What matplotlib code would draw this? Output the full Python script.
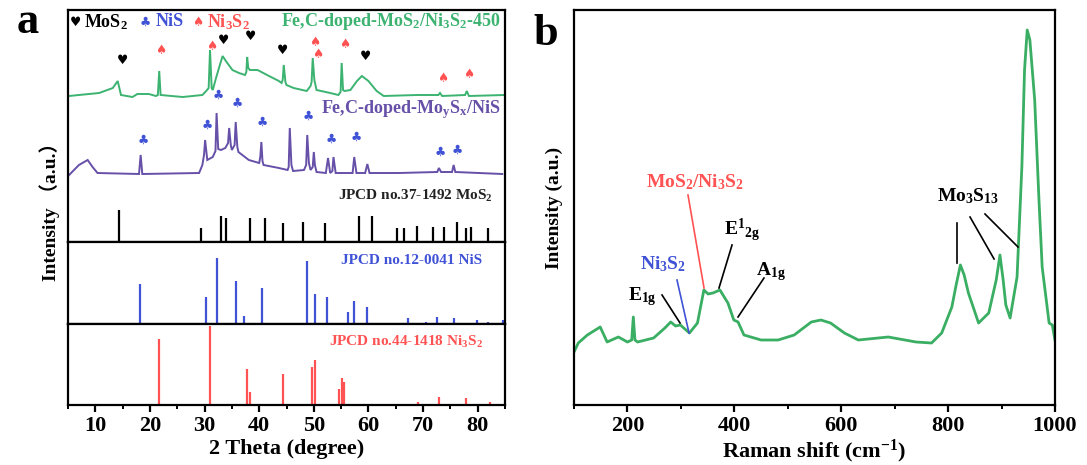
import matplotlib
matplotlib.use("Agg")
import matplotlib.pyplot as plt
from matplotlib.ticker import MultipleLocator, NullLocator

plt.rcParams['font.family'] = ['Liberation Serif', 'DejaVu Sans']
plt.rcParams['font.weight'] = 'bold'
plt.rcParams['mathtext.fontset'] = 'custom'
plt.rcParams['mathtext.rm'] = 'Liberation Serif:bold'
plt.rcParams['mathtext.it'] = 'Liberation Serif:bold'
plt.rcParams['mathtext.bf'] = 'Liberation Serif:bold'
plt.rcParams['mathtext.default'] = 'rm'

# ---------------- data: XRD (panel a) ----------------
green_2theta = [5.2, 7.0, 10.7, 13.2, 14.1, 14.7, 16.8, 17.7, 19.8, 21.1, 21.45, 21.7, 21.95, 26.0,
                29.6, 30.3, 30.75, 31.0, 31.3, 31.5, 32.1, 32.8, 33.3, 33.9, 35.1, 36.3, 37.4,
                37.65, 37.8, 38.0, 38.3, 39.7, 41.8, 43.6, 44.1, 44.3, 44.5, 44.8, 45.0, 46.3,
                48.7, 49.4, 49.6, 49.8, 50.1, 50.5, 53.0, 54.5, 54.9, 55.1, 55.35, 55.6, 56.7,
                57.9, 58.8, 60.0, 61.5, 62.8, 68.9, 72.8, 73.1, 73.5, 77.7, 78.0, 78.4, 84.9]
green_int = [0, 1, 3, 8, 15, 1, -1, 2, 2, 0, 1, 25, 1, -1,
             1, 5, 8, 46, 8, 6, 18, 31, 40, 35, 26, 23, 21,
             24, 39, 28, 26, 26, 20, 15, 13, 16, 31, 14, 11, 8,
             5, 10, 14, 38, 16, 6, 3, 1, 4, 33, 6, 5, 6,
             15, 20, 15, 5, 0, 1, 1, 3, 0, 1, 5, 0, 1]

purple_2theta = [5.2, 7.0, 8.6, 9.5, 10.4, 18.0, 18.3, 18.6, 29.0, 29.6, 29.9, 30.1, 30.5, 31.5,
                 32.0, 32.2, 32.5, 33.0, 33.8, 34.3, 34.5, 34.8, 35.0, 35.5, 35.7, 36.0, 36.2,
                 38.1, 40.0, 40.2, 40.4, 40.6, 40.8, 43.6, 45.2, 45.4, 45.6, 45.9, 46.2, 48.2,
                 48.6, 48.8, 49.1, 49.4, 49.8, 50.0, 50.2, 50.5, 52.2, 52.6, 53.0, 53.4, 53.6,
                 54.0, 57.1, 57.4, 57.8, 59.4, 59.8, 60.2, 65.6, 72.6, 72.9, 73.3, 75.3, 75.6,
                 75.9, 84.5]
purple_int = [0, 10, 15, 8, 2, 1, 20, 1, 2, 10, 20, 35, 15, 18,
              24, 62, 26, 25, 27, 32, 47, 30, 25, 30, 53, 28, 23,
              15, 12, 18, 33, 14, 10, 7, 5, 8, 47, 10, 4, 5,
              10, 40, 12, 5, 8, 23, 10, 3, 2, 17, 2, 4, 18,
              2, 2, 18, 2, 2, 11, 2, 2, 3, 7, 3, 3, 10,
              3, 1]

mos2_ref_2theta = [14.3, 29.3, 33.0, 33.9, 38.3, 41.0, 44.3, 48.0, 52.0, 58.2, 60.6, 65.3, 66.6,
                   68.8, 71.9, 73.9, 76.3, 77.9, 78.8, 81.8]
mos2_ref_int = [32, 14, 26, 24, 24, 24, 19, 20, 19, 26, 26, 14, 14, 16, 15, 15, 20, 14, 15, 14]

nis_ref_2theta = [18.2, 30.2, 32.2, 35.7, 37.2, 40.5, 48.7, 50.2, 52.5, 56.2, 57.3, 59.7, 67.3,
                  70.6, 72.6, 75.7, 79.8, 81.8, 84.7]
nis_ref_int = [40, 27, 66, 43, 8, 36, 63, 30, 27, 12, 23, 17, 6, 2, 7, 6, 4, 2, 4]

ni3s2_ref_2theta = [21.6, 31.0, 37.7, 38.3, 44.3, 49.6, 50.2, 54.6, 55.1, 55.5, 69.0, 73.0, 77.9, 82.2]
ni3s2_ref_int = [66, 79, 36, 13, 31, 38, 45, 16, 27, 23, 3, 8, 7, 3]

heart_2theta = [14.9, 33.5, 38.5, 44.2, 59.4]
heart_y = [182, 201, 205, 192, 186]
spade_2theta = [22.0, 31.3, 50.1, 50.7, 55.6, 73.6, 78.3]
spade_y = [191, 195, 199, 188, 197, 163, 167]
club_2theta = [32.5, 36.0, 30.5, 40.6, 48.9, 18.7, 53.1, 57.8, 73.2, 76.2]
club_y = [147, 139, 117, 120, 126, 102, 103, 105, 90, 92]

# ---------------- data: Raman (panel b) ----------------
raman_shift = [100, 108, 125, 149, 162, 183, 200, 208, 211, 214, 219, 249, 270, 281, 290, 299,
               316, 331, 343, 351, 360, 373, 388, 399, 407, 418, 450, 482, 512, 544, 562, 580,
               606, 632, 688, 740, 769, 788, 807, 815, 823, 830, 838, 857, 876, 890, 897, 903,
               908, 916, 929, 938, 943, 948, 953, 962, 970, 976, 989, 995, 1000]
raman_py = [352, 343, 335, 327, 342, 337, 342, 340, 317, 340, 342, 338, 328, 322, 326, 325,
            333, 323, 290, 294, 293, 290, 303, 320, 322, 335, 340, 340, 335, 322, 320, 323,
            333, 340, 337, 342, 343, 333, 307, 285, 265, 275, 293, 323, 313, 280, 255, 280,
            305, 318, 277, 167, 70, 30, 40, 100, 200, 267, 323, 325, 340]
raman_int = [405 - v for v in raman_py]

# ---------------- colours ----------------
GREEN = '#3cb371'
PURPLE = '#6650a8'
BLUE = '#4052d6'
RED = '#ff5252'
RGREEN = '#3aae62'

W, H = 1087, 465
fig = plt.figure(figsize=(W / 100, H / 100), dpi=100)

def fx(px):
    return px / W

def fy(py):
    return 1 - py / H

L, R = 68, 505
ax_top = fig.add_axes([fx(L), fy(242), fx(R - L), (242 - 10) / H])
ax_mid = fig.add_axes([fx(L), fy(324), fx(R - L), (324 - 242) / H])
ax_bot = fig.add_axes([fx(L), fy(405), fx(R - L), (405 - 324) / H])

for a in (ax_top, ax_mid, ax_bot):
    a.set_xlim(5, 85)
    for s in a.spines.values():
        s.set_linewidth(1.6)
    a.yaxis.set_major_locator(NullLocator())
ax_top.set_ylim(0, 232)
ax_mid.set_ylim(0, 82)
ax_bot.set_ylim(0, 81)
for a in (ax_top, ax_mid):
    a.tick_params(axis='x', which='both', bottom=False, labelbottom=False)

ax_bot.xaxis.set_major_locator(MultipleLocator(10))
ax_bot.xaxis.set_minor_locator(MultipleLocator(5))
ax_bot.set_xticks(range(10, 81, 10))
ax_bot.tick_params(axis='x', which='major', direction='out', length=5, width=1.6,
                   labelsize=16, pad=3)
ax_bot.tick_params(axis='x', which='minor', direction='out', length=3, width=1.4)
for lab in ax_bot.get_xticklabels():
    lab.set_fontweight('bold')
ax_bot.set_xlabel('2 Theta (degree)', fontsize=16, fontweight='bold', labelpad=2)

# patterns
ax_top.plot(green_2theta, [146 + v for v in green_int], color=GREEN, lw=1.4, solid_joinstyle='miter')
ax_top.plot(purple_2theta, [67 + v for v in purple_int], color=PURPLE, lw=1.4, solid_joinstyle='miter')
ax_top.vlines(mos2_ref_2theta, 0, mos2_ref_int, color='black', lw=1.6)
ax_mid.vlines(nis_ref_2theta, 0, nis_ref_int, color=BLUE, lw=1.6)
ax_bot.vlines(ni3s2_ref_2theta, 0, ni3s2_ref_int, color=RED, lw=1.6)

sym = dict(family=['DejaVu Sans'], fontsize=9, ha='center', va='center')
for x, y in zip(heart_2theta, heart_y):
    ax_top.text(x, y, '\u2665', color='black', **sym)
for x, y in zip(spade_2theta, spade_y):
    ax_top.text(x, y, '\u2660', color=RED, **sym)
for x, y in zip(club_2theta, club_y):
    ax_top.text(x, y, '\u2663', color=BLUE, **sym)

# legend row
ax_top.text(6.3, 220, '\u2665', color='black', **sym)
ax_top.text(8.0, 220, 'MoS$_2$', color='black', fontsize=13, fontweight='bold', va='center')
ax_top.text(19.2, 220, '\u2663', color=BLUE, **sym)
ax_top.text(21.0, 220, 'NiS', color=BLUE, fontsize=13, fontweight='bold', va='center')
ax_top.text(28.8, 220, '\u2660', color=RED, **sym)
ax_top.text(30.5, 220, 'Ni$_3$S$_2$', color=RED, fontsize=13, fontweight='bold', va='center')

ax_top.text(84.2, 220, 'Fe,C-doped-MoS$_2$/Ni$_3$S$_2$-450', color=GREEN, fontsize=13,
            fontweight='bold', ha='right', va='center')
ax_top.text(84.2, 132, 'Fe,C-doped-Mo$_y$S$_x$/NiS', color=PURPLE, fontsize=13,
            fontweight='bold', ha='right', va='center')
ax_top.text(82.8, 46, 'JPCD no.37-1492 MoS$_2$', color='#222222', fontsize=11,
            fontweight='bold', ha='right', va='center')
ax_mid.text(80.8, 63, 'JPCD no.12-0041 NiS', color=BLUE, fontsize=11,
            fontweight='bold', ha='right', va='center')
ax_bot.text(81.0, 63, 'JPCD no.44-1418 Ni$_3$S$_2$', color=RED, fontsize=11,
            fontweight='bold', ha='right', va='center')

fig.text(fx(50), fy(207), 'Intensity \uff08a.u.\uff09', rotation=90, ha='center', va='center',
         fontsize=14, fontweight='bold', family=['Liberation Serif', 'Noto Sans CJK SC'])
fig.text(fx(28), fy(22), 'a', fontsize=32, fontweight='bold', ha='center', va='center')

# ---------------- panel b ----------------
axb = fig.add_axes([fx(574), fy(405), fx(1055 - 574), (405 - 10) / H])
axb.set_xlim(100, 1000)
axb.set_ylim(0, 395)
for s in axb.spines.values():
    s.set_linewidth(1.6)
axb.yaxis.set_major_locator(NullLocator())
axb.set_xticks([200, 400, 600, 800, 1000])
axb.xaxis.set_minor_locator(MultipleLocator(100))
axb.tick_params(axis='x', which='major', direction='out', length=5, width=1.6, labelsize=16, pad=3)
axb.tick_params(axis='x', which='minor', direction='out', length=3, width=1.4)
for lab in axb.get_xticklabels():
    lab.set_fontweight('bold')
axb.set_xlabel('Raman shift (cm$^{-1}$)', fontsize=16, fontweight='bold', labelpad=1)
axb.set_ylabel('Intensity (a.u.)', fontsize=14, fontweight='bold', labelpad=8)

axb.plot(raman_shift, raman_int, color=RGREEN, lw=2.0, solid_joinstyle='round')

# annotations
axb.plot([313.3, 343.3], [210, 117], color=RED, lw=1.2)
axb.text(326, 223, 'MoS$_2$/Ni$_3$S$_2$', color=RED, fontsize=14, ha='center', va='center')
axb.plot([292.7, 315.2], [125, 72], color=BLUE, lw=1.2)
axb.text(266, 141, 'Ni$_3$S$_2$', color=BLUE, fontsize=14, ha='center', va='center')
axb.plot([264.7, 298.4], [110, 82], color='black', lw=1.2)
axb.text(228, 108, 'E$_{1g}$', color='black', fontsize=14, ha='center', va='center')
axb.plot([395.7, 371.3], [160, 117], color='black', lw=1.2)
axb.text(414, 175, 'E$^{1}{}_{2g}$', color='black', fontsize=14, ha='center', va='center')
axb.plot([455.5, 406.9], [127, 88], color='black', lw=1.2)
axb.text(468, 133, 'A$_{1g}$', color='black', fontsize=14, ha='center', va='center')
axb.text(837, 209, 'Mo$_3$S$_{13}$', color='black', fontsize=14, ha='center', va='center')
axb.plot([816.7, 816.7], [182, 142], color='black', lw=1.2)
axb.plot([841, 886], [188, 146], color='black', lw=1.2)
axb.plot([869, 930.8], [191, 158], color='black', lw=1.2)

fig.text(fx(546), fy(34), 'b', fontsize=32, fontweight='bold', ha='center', va='center')

fig.savefig('out.png', dpi=100)
